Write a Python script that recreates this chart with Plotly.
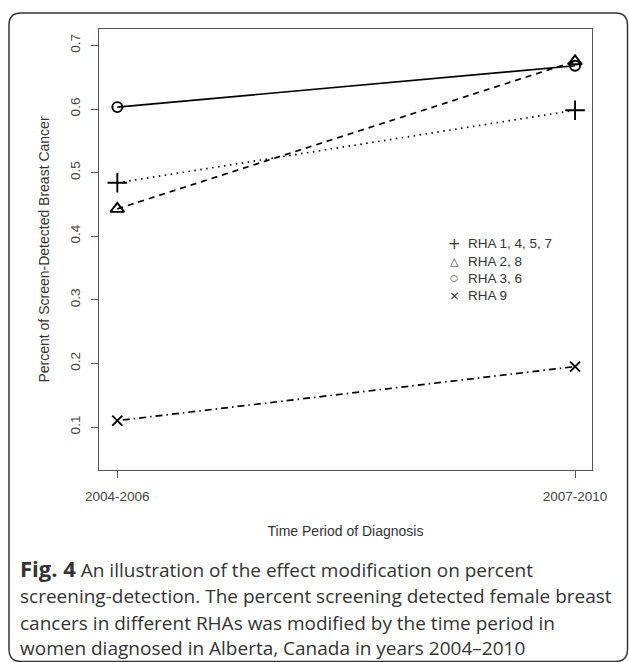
import plotly.graph_objects as go

# ---- data ----
periods = ["2004-2006", "2007-2010"]
period_pos = [1, 2]
series_names = ["RHA 1, 4, 5, 7", "RHA 2, 8", "RHA 3, 6", "RHA 9"]
rha_1457 = [0.484, 0.598]
rha_28 = [0.443, 0.675]
rha_36 = [0.603, 0.668]
rha_9 = [0.110, 0.195]
y_ticks = [0.1, 0.2, 0.3, 0.4, 0.5, 0.6, 0.7]
caption_lines = [
    "<b><span style='font-size:22px'>Fig. 4</span></b> An illustration of the effect modification on percent",
    "screening-detection. The percent screening detected female breast",
    "cancers in different RHAs was modified by the time period in",
    "women diagnosed in Alberta, Canada in years 2004\u20132010",
]

# ---- layout geometry (pixels) ----
FW, FH = 629, 662
L, R, T, B = 99, 592, 29, 470
W, H = R - L, B - T


def px(xp):
    return (xp - L) / W


def py(yp):
    return (B - yp) / H


series = [
    (series_names[0], rha_1457, "cross-thin", 14, "1.5px,4.5px"),
    (series_names[1], rha_28, "triangle-up-open", 12, "6px,5px"),
    (series_names[2], rha_36, "circle-open", 10, "solid"),
    (series_names[3], rha_9, "x-thin", 10, "1.5px,4px,7px,4px"),
]

fig = go.Figure()
for name, vals, sym, size, dash in series:
    fig.add_trace(go.Scatter(
        x=period_pos, y=vals, name=name, mode="lines+markers",
        line=dict(color="black", width=1.7, dash=dash),
        marker=dict(symbol=sym, size=size, color="black",
                    line=dict(color="black", width=1.9)),
        showlegend=False,
    ))

tick_font = dict(family="Liberation Sans, Arial, sans-serif", size=13.5, color="#444")
title_font = dict(family="Liberation Sans, Arial, sans-serif", size=14, color="#333")

fig.update_layout(
    width=FW, height=FH,
    margin=dict(l=L, r=FW - R, t=T, b=FH - B, autoexpand=False),
    paper_bgcolor="white", plot_bgcolor="white",
    showlegend=False,
    xaxis=dict(
        range=[0.96, 2.037], tickvals=period_pos, ticktext=periods,
        showgrid=False, zeroline=False, showline=True, mirror=True,
        linecolor="#555", linewidth=1, ticks="outside", ticklen=7,
        tickcolor="#555", tickfont=tick_font, ticklabelstandoff=7,
        title=dict(text="Time Period of Diagnosis", font=title_font, standoff=22),
    ),
    yaxis=dict(
        range=[0.0324, 0.7258], tickvals=y_ticks,
        ticktext=[f"{v:.1f}" for v in y_ticks], tickangle=-90,
        showgrid=False, zeroline=False, showline=True, mirror=True,
        linecolor="#555", linewidth=1, ticks="outside", ticklen=7,
        tickcolor="#555", tickfont=tick_font, ticklabelstandoff=6,
        title=dict(text="Percent of Screen-Detected Breast Cancer",
                   font=title_font, standoff=14),
    ),
)

# legend drawn as text, no border
legend_symbols = ["+", "\u25b3", "\u25cb", "\u00d7"]
legend_sizes = [15, 11, 9, 13]
legend_y = [244, 261, 278, 295]
for sym, sz, name, yy in zip(legend_symbols, legend_sizes, series_names, legend_y):
    fig.add_annotation(xref="paper", yref="paper", x=px(454), y=py(yy),
                       text=sym, showarrow=False, xanchor="center", yanchor="middle",
                       font=dict(family="DejaVu Sans", size=sz, color="#333"))
    fig.add_annotation(xref="paper", yref="paper", x=px(466), y=py(yy),
                       text=name, showarrow=False, xanchor="left", yanchor="middle",
                       font=dict(family="Liberation Sans, Arial, sans-serif", size=13.5,
                                 color="#333"))

# caption
cap_y = [568, 596, 623, 648]
for line, yy in zip(caption_lines, cap_y):
    fig.add_annotation(xref="paper", yref="paper", x=px(18), y=py(yy),
                       text=line, showarrow=False, xanchor="left", yanchor="middle",
                       font=dict(family="Open Sans", size=19, color="#333"))

# rounded outer frame (bottom edge falls at the picture's lower border)
x0, y0, x1, y1, r = 9, 13, 627.5, 661.5, 12
path = (
    f"M {px(x0 + r)},{py(y0)} L {px(x1 - r)},{py(y0)} "
    f"Q {px(x1)},{py(y0)} {px(x1)},{py(y0 + r)} "
    f"L {px(x1)},{py(y1 - r)} Q {px(x1)},{py(y1)} {px(x1 - r)},{py(y1)} "
    f"L {px(x0 + r)},{py(y1)} Q {px(x0)},{py(y1)} {px(x0)},{py(y1 - r)} "
    f"L {px(x0)},{py(y0 + r)} Q {px(x0)},{py(y0)} {px(x0 + r)},{py(y0)} Z"
)
fig.add_shape(type="path", xref="paper", yref="paper", path=path,
              line=dict(color="#333", width=1.5), layer="below")

fig.write_html("out.html")
